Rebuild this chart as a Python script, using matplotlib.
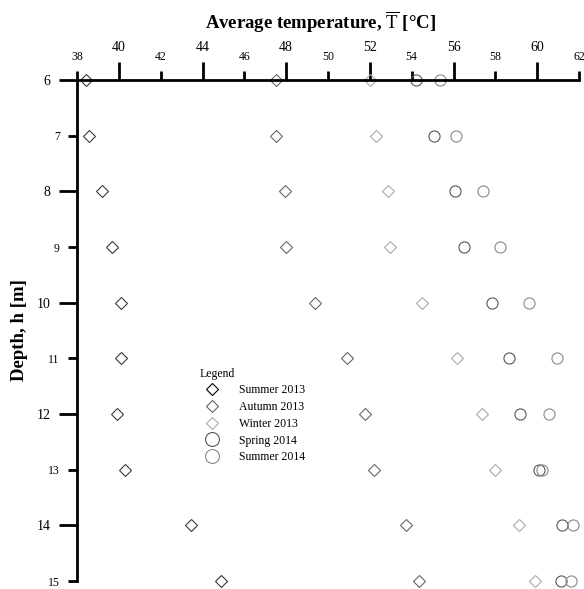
import matplotlib
matplotlib.use("Agg")
import matplotlib.pyplot as plt
from matplotlib.ticker import FixedLocator

plt.rcParams["font.family"] = ["Liberation Serif", "DejaVu Serif"]
plt.rcParams["mathtext.fontset"] = "custom"
plt.rcParams["mathtext.rm"] = "Liberation Serif"

# ---- data ----
depth = [6, 7, 8, 9, 10, 11, 12, 13, 14, 15]

summer_2013 = [38.45, 38.55, 39.2, 39.65, 40.1, 40.1, 39.9, 40.3, 43.45, 44.9]
autumn_2013 = [47.5, 47.5, 47.95, 48.0, 49.4, 50.9, 51.75, 52.2, 53.75, 54.35]
winter_2013 = [52.0, 52.3, 52.85, 52.95, 54.5, 56.15, 57.35, 58.0, 59.15, 59.9]
spring_2014 = [54.2, 55.05, 56.05, 56.5, 57.85, 58.65, 59.2, 60.1, 61.2, 61.15]
summer_2014 = [55.35, 56.1, 57.4, 58.2, 59.6, 60.95, 60.55, 60.25, 61.7, 61.6]

series = [
    ("Summer 2013", summer_2013, "D", "#3a3a3a"),
    ("Autumn 2013", autumn_2013, "D", "#666666"),
    ("Winter 2013", winter_2013, "D", "#aaaaaa"),
    ("Spring 2014", spring_2014, "o", "#555555"),
    ("Summer 2014", summer_2014, "o", "#888888"),
]

fig = plt.figure(figsize=(5.84, 5.89), dpi=100)
ax = fig.add_axes([77 / 584, 1 - 581 / 589, (579 - 77) / 584, (581 - 80) / 589])

for label, vals, marker, color in series:
    ms = 6 if marker == "D" else 8
    ax.plot(vals, depth, linestyle="none", marker=marker, ms=ms,
            mfc="none", mec=color, mew=0.8, label=label, clip_on=False)

ax.set_xlim(38, 62)
ax.set_ylim(15, 6)

# axes style: top x axis, left y axis only
ax.spines["bottom"].set_visible(False)
ax.spines["right"].set_visible(False)
ax.spines["top"].set_linewidth(2)
ax.spines["left"].set_linewidth(2)
ax.xaxis.tick_top()

ax.xaxis.set_major_locator(FixedLocator([40, 44, 48, 52, 56, 60]))
ax.xaxis.set_minor_locator(FixedLocator([38, 42, 46, 50, 54, 58, 62]))
ax.yaxis.set_major_locator(FixedLocator([6, 8, 10, 12, 14]))
ax.yaxis.set_minor_locator(FixedLocator([7, 9, 11, 13, 15]))
ax.xaxis.set_minor_formatter(plt.FuncFormatter(lambda v, p: f"{v:g}"))
ax.yaxis.set_minor_formatter(plt.FuncFormatter(lambda v, p: f"{v:g}"))

ax.tick_params(axis="both", which="major", direction="out", length=13,
               width=2, labelsize=10, pad=6)
ax.tick_params(axis="both", which="minor", direction="out", length=6.5,
               width=2, labelsize=8.5, pad=6)

fig.text(320 / 584, 1 - 22 / 589,
         r"Average temperature, $\overline{\mathrm{T}}$ [°C]",
         ha="center", va="center", fontsize=13.5, fontweight="bold")
fig.text(20 / 584, 1 - 330 / 589, "Depth, h [m]", rotation=90,
         ha="center", va="center", fontsize=13.5, fontweight="bold")

leg = ax.legend(title="Legend", loc="upper left",
                bbox_to_anchor=(195 / 584, 1 - 363 / 589),
                bbox_transform=fig.transFigure, frameon=False,
                fontsize=8.5, title_fontsize=8.5, labelspacing=0.4,
                handletextpad=1.3, borderaxespad=0)
leg._legend_box.align = "left"
for h, (label, vals, marker, color) in zip(leg.legend_handles, series):
    h.set_markersize(6 if marker == "D" else 10)
    h.set_markeredgecolor("black" if label == "Summer 2013" else color)

fig.savefig("out.png", dpi=100)
